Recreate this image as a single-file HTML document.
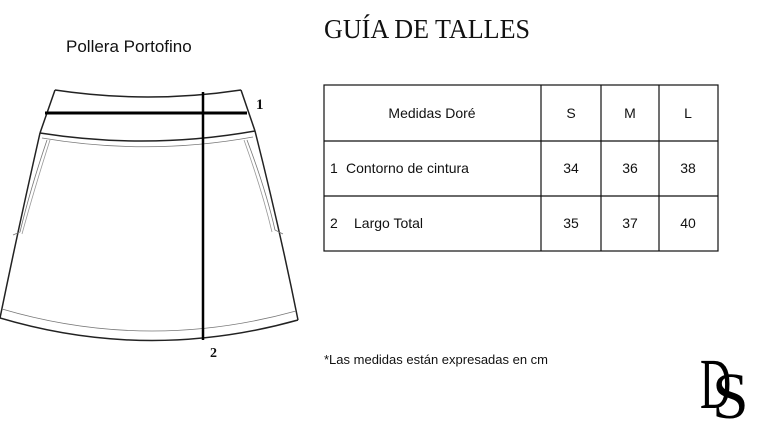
<!DOCTYPE html>
<html><head><meta charset="utf-8"><style>
body{margin:0;background:#fff;width:775px;height:430px;overflow:hidden;font-family:"Liberation Serif",serif;}
</style></head><body>
<svg width="775" height="430" xmlns="http://www.w3.org/2000/svg" style="position:absolute;left:0;top:0">
<text x="66" y="52" font-family="Liberation Sans, sans-serif" font-size="17" fill="#111">Pollera  Portofino</text>
<text x="324" y="38" font-family="Liberation Serif, serif" font-size="27" fill="#111" textLength="206" lengthAdjust="spacingAndGlyphs">GUÍA DE TALLES</text>
<g fill="none" stroke="#222">
<path d="M55,90 Q148,104 241,90" stroke-width="1.5"/>
<path d="M55,90 L40,133" stroke-width="1.5"/>
<path d="M241,90 L255,131" stroke-width="1.5"/>
<path d="M40,133 Q148,150 255,131" stroke-width="1.5"/>
<path d="M42,138 Q148,156 253,137" stroke-width="0.8" stroke="#777"/>
<path d="M40,133 Q18,230 0,318" stroke-width="1.5"/>
<path d="M255,131 Q280,230 298,320" stroke-width="1.5"/>
<path d="M0,318 Q148,362 298,320" stroke-width="1.5"/>
<path d="M2,309 Q148,352 296,311" stroke-width="0.8" stroke="#777"/>
<path d="M47,140 Q30,190 20,232 L13,235" stroke-width="0.8" stroke="#777"/>
<path d="M50,140 Q34,190 22,234" stroke-width="0.8" stroke="#999"/>
<path d="M247,140 Q266,190 275,230 L283,234" stroke-width="0.8" stroke="#777"/>
<path d="M244,140 Q262,190 272,232" stroke-width="0.8" stroke="#999"/>
</g>
<line x1="45" y1="113" x2="247" y2="113" stroke="#000" stroke-width="3"/>
<line x1="203" y1="92" x2="203" y2="340" stroke="#000" stroke-width="2.5"/>
<text x="256" y="109" font-size="15" font-weight="bold" fill="#111">1</text>
<text x="210" y="357" font-size="14" font-weight="bold" fill="#111">2</text>
<g stroke="#111" stroke-width="1.2" fill="none">
<rect x="324" y="85" width="394" height="166"/>
<line x1="324" y1="141" x2="718" y2="141"/>
<line x1="324" y1="196" x2="718" y2="196"/>
<line x1="541" y1="85" x2="541" y2="251"/>
<line x1="601" y1="85" x2="601" y2="251"/>
<line x1="659" y1="85" x2="659" y2="251"/>
</g>
<g font-family="Liberation Sans, sans-serif" font-size="14" fill="#111">
<text x="432" y="118" text-anchor="middle">Medidas Doré</text>
<text x="571" y="118" text-anchor="middle">S</text>
<text x="630" y="118" text-anchor="middle">M</text>
<text x="688" y="118" text-anchor="middle">L</text>
<text x="330" y="173">1</text><text x="346" y="173">Contorno de cintura</text>
<text x="571" y="173" text-anchor="middle">34</text>
<text x="630" y="173" text-anchor="middle">36</text>
<text x="688" y="173" text-anchor="middle">38</text>
<text x="330" y="228">2</text><text x="354" y="228">Largo Total</text>
<text x="571" y="228" text-anchor="middle">35</text>
<text x="630" y="228" text-anchor="middle">37</text>
<text x="688" y="228" text-anchor="middle">40</text>
<text x="324" y="364" font-size="13">*Las medidas están expresadas en cm</text>
</g>
<text x="700" y="408" font-family="Liberation Serif, serif" font-size="72" fill="#000" transform="translate(700 0) scale(0.6 1) translate(-700 0)">D</text>
<text x="712" y="418" font-family="Liberation Serif, serif" font-size="66" fill="#000">S</text>
</svg>
</body></html>
